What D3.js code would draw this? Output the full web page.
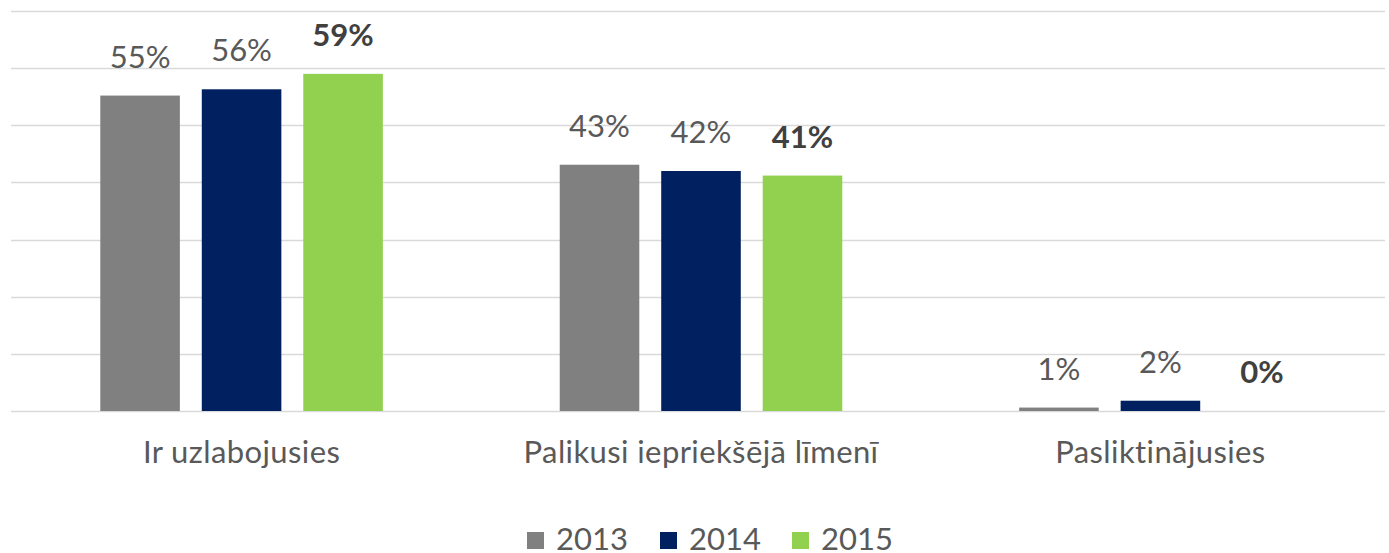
<!DOCTYPE html>
<html>
<head>
<meta charset="utf-8">
<script src="https://cdn.jsdelivr.net/npm/d3@7"></script>
<style>
  body { margin: 0; background: #fff; }
  text { font-family: Lato, "Open Sans", sans-serif; fill: #595959; }
</style>
</head>
<body>
<div id="chart"></div>
<script>
var categories = ["Ir uzlabojusies", "Palikusi iepriekšējā līmenī", "Pasliktinājusies"];
var years = ["2013", "2014", "2015"];
var values2013 = [55.2, 43.1, 0.6];
var values2014 = [56.3, 42.0, 1.8];
var values2015 = [59.0, 41.2, 0];
var labels2013 = ["55%", "43%", "1%"];
var labels2014 = ["56%", "42%", "2%"];
var labels2015 = ["59%", "41%", "0%"];
var yTicks = [0, 10, 20, 30, 40, 50, 60, 70];

var colors = ["#808080", "#002060", "#92D050"];
var seriesVals = [values2013, values2014, values2015];
var seriesLabels = [labels2013, labels2014, labels2015];

var width = 1389, height = 553;
var margin = {top: 11, right: 0, bottom: 142, left: 13};

var svg = d3.select("#chart").append("svg")
  .attr("width", width)
  .attr("height", height);

var y = d3.scaleLinear().domain([0, 70]).range([height - margin.bottom, margin.top]);
var x0 = d3.scaleBand().domain(categories).range([margin.left, width]).paddingInner(0.385).paddingOuter(0.19);
var x1 = d3.scaleBand().domain(years).range([0, x0.bandwidth()]).paddingInner(0.216);

// gridlines
svg.append("g")
  .selectAll("line")
  .data(yTicks)
  .join("line")
    .attr("x1", 11)
    .attr("x2", width - 4)
    .attr("y1", function(d) { return Math.round(y(d)) + 0.5; })
    .attr("y2", function(d) { return Math.round(y(d)) + 0.5; })
    .attr("stroke", "#D9D9D9")
    .attr("stroke-width", 1.5);

var groups = svg.append("g")
  .selectAll("g")
  .data(categories)
  .join("g")
    .attr("transform", function(d) { return "translate(" + x0(d) + ",0)"; });

groups.selectAll("rect")
  .data(function(d, i) { return years.map(function(yr, j) { return {year: yr, value: seriesVals[j][i]}; }); })
  .join("rect")
    .attr("x", function(d) { return x1(d.year); })
    .attr("y", function(d) { return y(d.value); })
    .attr("width", x1.bandwidth())
    .attr("height", function(d) { return y(0) - y(d.value); })
    .attr("fill", function(d, j) { return colors[j]; });

// data labels, 2015 in bold
groups.selectAll("text.val")
  .data(function(d, i) { return years.map(function(yr, j) { return {year: yr, value: seriesVals[j][i], label: seriesLabels[j][i], j: j}; }); })
  .join("text")
    .attr("class", "val")
    .attr("x", function(d) { return x1(d.year) + x1.bandwidth() / 2; })
    .attr("y", function(d) { return y(d.value) - 28; })
    .attr("text-anchor", "middle")
    .style("font-size", "31px")
    .style("font-weight", function(d) { return d.j === 2 ? "bold" : "normal"; })
    .style("fill", function(d) { return d.j === 2 ? "#404040" : "#595959"; })
    .text(function(d) { return d.label; });

// category axis
var xAxis = svg.append("g")
  .attr("transform", "translate(0," + y(0) + ")")
  .call(d3.axisBottom(x0).tickSize(0).tickPadding(30));
xAxis.select(".domain").remove();
xAxis.selectAll("text")
  .style("font-size", "31px")
  .style("font-family", "Lato, sans-serif")
  .style("letter-spacing", "0.4px")
  .attr("fill", "#595959");

// legend
var legendX = [527, 660, 792];
var legend = svg.append("g")
  .selectAll("g")
  .data(years)
  .join("g")
    .attr("transform", function(d, i) { return "translate(" + legendX[i] + ",532)"; });
legend.append("rect")
  .attr("x", 0).attr("y", 0)
  .attr("width", 17).attr("height", 17)
  .attr("fill", function(d, i) { return colors[i]; });
legend.append("text")
  .attr("x", 29)
  .attr("y", 18)
  .style("font-size", "31px")
  .text(function(d) { return d; });
</script>
</body>
</html>
